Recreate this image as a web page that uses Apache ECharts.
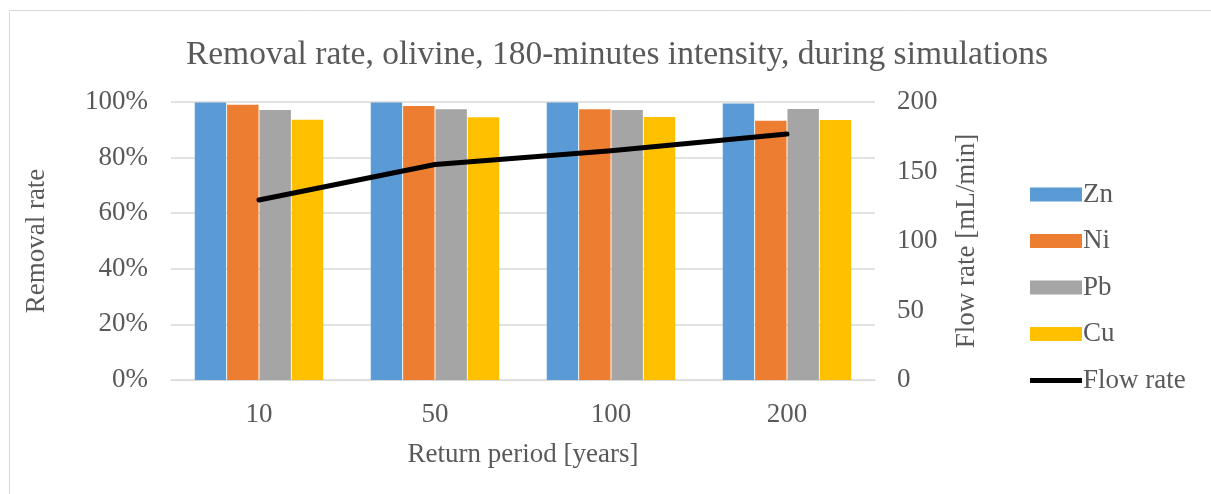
<!DOCTYPE html>
<html>
<head>
<meta charset="utf-8">
<script src="https://cdn.jsdelivr.net/npm/echarts@6/dist/echarts.min.js"></script>
<style>
html,body{margin:0;padding:0;background:#fff;}
#chart{width:1211px;height:494px;}
</style>
</head>
<body>
<div id="chart"></div>
<script>
const categories = ['10', '50', '100', '200'];
const zn = [0.998, 0.998, 0.998, 0.995];
const ni = [0.990, 0.986, 0.974, 0.933];
const pb = [0.971, 0.974, 0.971, 0.975];
const cu = [0.936, 0.945, 0.946, 0.935];
const flowRate = [129.5, 155, 165, 177];
const seriesNames = ['Zn', 'Ni', 'Pb', 'Cu', 'Flow rate'];
const colors = ['#5B9BD5', '#ED7D31', '#A5A5A5', '#FFC000'];

const font = 'Liberation Serif, Times New Roman, serif';
const txt = '#595959';
const fs = 27;

const chart = echarts.init(document.getElementById('chart'));
const barValues = [zn, ni, pb, cu];
const series = barValues.map((vals, i) => ({
  name: seriesNames[i],
  type: 'bar',
  yAxisIndex: 0,
  data: vals,
  barGap: '3%',
  barCategoryGap: '27%',
  itemStyle: { color: colors[i] }
}));
series.push({
  name: seriesNames[4],
  type: 'line',
  yAxisIndex: 1,
  data: flowRate,
  symbol: 'none',
  lineStyle: { color: '#000', width: 5, cap: 'round', join: 'round' },
  itemStyle: { color: '#000' }
});

chart.setOption({
  animation: false,
  textStyle: { fontFamily: font },
  title: {
    text: 'Removal rate, olivine, 180-minutes intensity, during simulations',
    left: 612, top: 33, textAlign: 'center',
    textStyle: { fontFamily: font, fontSize: 33.5, fontWeight: 'normal', color: txt }
  },
  graphic: [{
    type: 'rect', shape: { x: 9.5, y: 10.5, width: 1400, height: 800 },
    style: { fill: 'none', stroke: '#d9d9d9', lineWidth: 1 }, silent: true
  }],
  grid: { left: 171, right: 336, top: 102, bottom: 114 },
  legend: {
    orient: 'vertical', left: 1025, top: 176,
    itemWidth: 52, itemHeight: 14, itemGap: 19.5,
    data: [
      { name: 'Zn', icon: 'rect' }, { name: 'Ni', icon: 'rect' },
      { name: 'Pb', icon: 'rect' }, { name: 'Cu', icon: 'rect' },
      { name: 'Flow rate', icon: 'path://M0,0 H52 V5 H0 Z', itemStyle: { color: '#000' } }
    ],
    textStyle: { fontFamily: font, fontSize: fs, color: txt, padding: [0, 0, 0, -4] }
  },
  xAxis: {
    type: 'category', data: categories,
    name: 'Return period [years]', nameLocation: 'middle', nameGap: 61,
    nameTextStyle: { fontFamily: font, fontSize: fs, color: txt },
    axisLine: { lineStyle: { color: '#d9d9d9', width: 1 } },
    axisTick: { show: false },
    axisLabel: { fontFamily: font, fontSize: fs, color: txt, margin: 21 }
  },
  yAxis: [{
    type: 'value', min: 0, max: 1, interval: 0.2,
    name: 'Removal rate', nameLocation: 'middle', nameGap: 121,
    nameTextStyle: { fontFamily: font, fontSize: fs, color: txt },
    axisLine: { show: false }, axisTick: { show: false },
    splitLine: { lineStyle: { color: '#d9d9d9', width: 1.5 } },
    axisLabel: { fontFamily: font, fontSize: fs, color: txt, margin: 23,
      formatter: v => Math.round(v * 100) + '%' }
  }, {
    type: 'value', min: 0, max: 200, interval: 50,
    name: 'Flow rate [mL/min]', nameLocation: 'middle', nameGap: 78,
    nameTextStyle: { fontFamily: font, fontSize: fs, color: txt },
    axisLine: { show: false }, axisTick: { show: false },
    splitLine: { show: false },
    axisLabel: { fontFamily: font, fontSize: fs, color: txt, margin: 22 }
  }],
  series: series
});
</script>
</body>
</html>
